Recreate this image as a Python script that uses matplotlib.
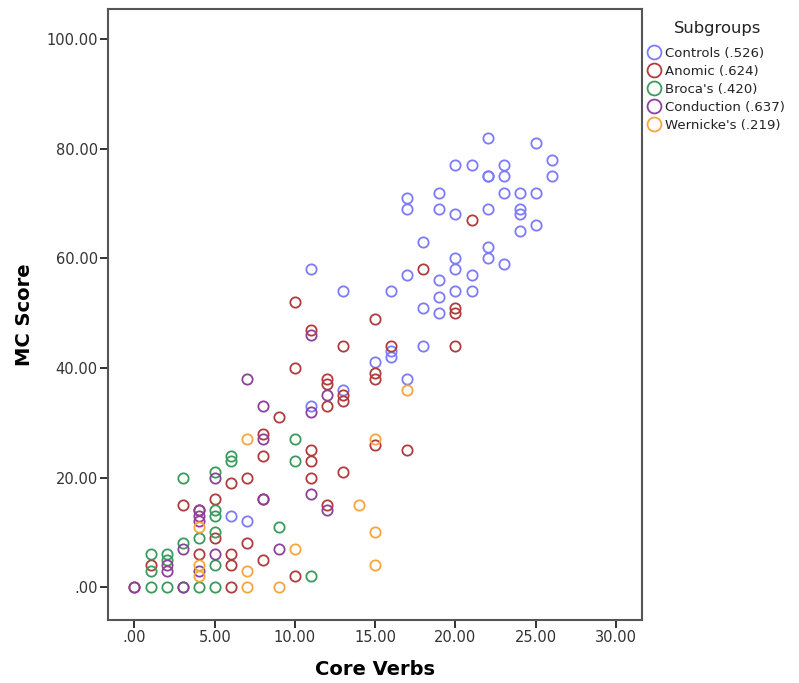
import matplotlib
matplotlib.use("Agg")
import matplotlib.pyplot as plt
from matplotlib.ticker import FuncFormatter
from matplotlib.lines import Line2D

# Core verbs (x) and MC score (y) per subgroup
controls_x = [22, 25, 26, 20, 21, 23, 22, 22, 23, 26, 19, 23, 24, 25, 17, 17, 19, 20, 22, 24,
              24, 24, 25, 18, 22, 20, 22, 23, 17, 19, 20, 21, 16, 19, 20, 21, 18, 19, 11, 13,
              16, 16, 18, 15, 17, 13, 11, 6, 7]
controls_y = [82, 81, 78, 77, 77, 77, 75, 75, 75, 75, 72, 72, 72, 72, 71, 69, 69, 68, 69, 69,
              68, 65, 66, 63, 62, 60, 60, 59, 57, 56, 58, 57, 54, 53, 54, 54, 51, 50, 58, 54,
              43, 42, 44, 41, 38, 36, 33, 13, 12]

anomic_x = [21, 18, 20, 20, 15, 10, 11, 13, 16, 20, 10, 15, 15, 12, 12, 13, 13, 12, 9, 8,
            15, 8, 11, 17, 11, 7, 11, 13, 6, 3, 5, 8, 12, 5, 7, 1, 4, 6, 6, 8,
            10, 6, 0, 4]
anomic_y = [67, 58, 51, 50, 49, 52, 47, 44, 44, 44, 40, 39, 38, 38, 37, 35, 34, 33, 31, 28,
            26, 24, 25, 25, 23, 20, 20, 21, 19, 15, 16, 16, 15, 9, 8, 4, 6, 6, 4, 5,
            2, 0, 0, 14]

broca_x = [10, 6, 6, 10, 3, 5, 5, 5, 9, 5, 4, 3, 1, 2, 2, 1, 5, 11, 1, 2, 3, 4, 5]
broca_y = [27, 24, 23, 23, 20, 21, 14, 13, 11, 10, 9, 8, 6, 6, 5, 3, 4, 2, 0, 0, 0, 0, 0]

conduction_x = [11, 12, 7, 8, 11, 8, 5, 11, 8, 12, 4, 4, 4, 3, 9, 5, 2, 2, 4, 0, 3]
conduction_y = [46, 35, 38, 33, 32, 27, 20, 17, 16, 14, 14, 13, 12, 7, 7, 6, 4, 3, 3, 0, 0]

wernicke_x = [17, 7, 15, 14, 4, 15, 10, 4, 4, 7, 15, 7, 9]
wernicke_y = [36, 27, 27, 15, 11, 10, 7, 4, 2, 3, 4, 0, 0]

group_labels = ["Controls (.526)", "Anomic (.624)", "Broca's (.420)",
                "Conduction (.637)", "Wernicke's (.219)"]
group_colors = ["#7b7bfb", "#b23c3c", "#3a9c5c", "#8c419c", "#f8a63c"]

x_ticks = [0, 5, 10, 15, 20, 25, 30]
y_ticks = [0, 20, 40, 60, 80, 100]

groups = [(controls_x, controls_y), (anomic_x, anomic_y), (broca_x, broca_y),
          (conduction_x, conduction_y), (wernicke_x, wernicke_y)]

W, H = 799, 683
fig = plt.figure(figsize=(W / 100, H / 100), dpi=100)
ax = fig.add_axes([108 / W, 1 - 620 / H, (642 - 108) / W, (620 - 9) / H])

for (gx, gy), color in zip(groups, group_colors):
    ax.plot(gx, gy, linestyle="none", marker="o", markersize=7.4,
            markerfacecolor="none", markeredgecolor=color, markeredgewidth=1.3)

ax.set_xlim(-1.65, 31.62)
ax.set_ylim(-6.0, 105.5)
ax.set_xticks(x_ticks)
ax.set_yticks(y_ticks)


def two_decimals(v, pos):
    s = f"{v:.2f}"
    return s[1:] if s.startswith("0.") else s


ax.xaxis.set_major_formatter(FuncFormatter(two_decimals))
ax.yaxis.set_major_formatter(FuncFormatter(two_decimals))

for side in ["left", "bottom", "top", "right"]:
    ax.spines[side].set_color("#555555")
    ax.spines[side].set_linewidth(1.5)

ax.tick_params(axis="both", direction="out", length=5.8, width=1.3, color="#222222",
               labelsize=10.5, labelcolor="#333333", pad=1.5)
ax.tick_params(top=False, right=False)

ax.set_xlabel("Core Verbs", fontsize=14, fontweight="bold", labelpad=11)
ax.set_ylabel("MC Score", fontsize=14, fontweight="bold", labelpad=9)

fig.text(718 / W, 1 - 28 / H, "Subgroups", ha="center", va="center",
         fontsize=11.8, color="#222222")

handles = [Line2D([], [], linestyle="none", marker="o", markersize=10,
                  markerfacecolor="none", markeredgecolor=c, markeredgewidth=1.3)
           for c in group_colors]
leg = ax.legend(handles, group_labels, loc="upper left",
                bbox_to_anchor=(648 / W, 1 - 47 / H), bbox_transform=fig.transFigure,
                frameon=False, fontsize=9.5, handlelength=0.9,
                handletextpad=0.4, labelspacing=0.37, borderaxespad=0, borderpad=0)
for t in leg.get_texts():
    t.set_color("#222222")

fig.savefig("out.png", dpi=100)
